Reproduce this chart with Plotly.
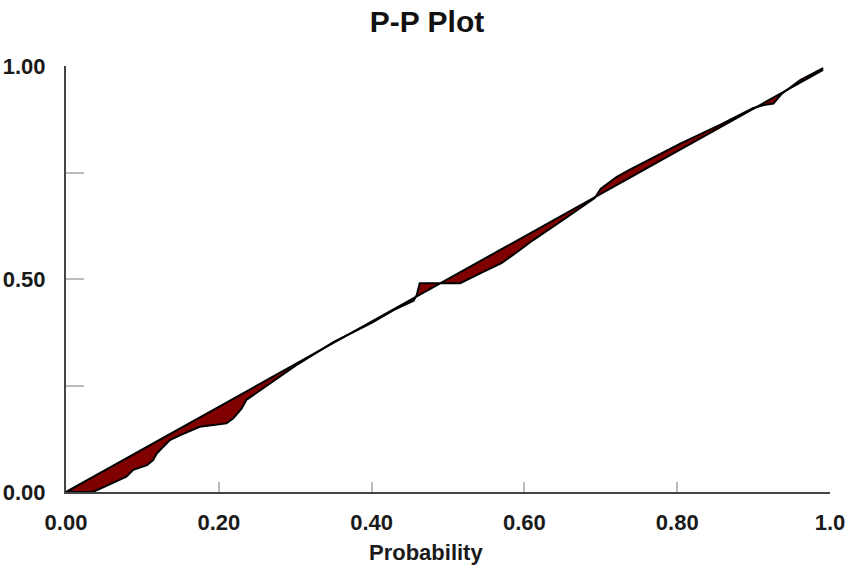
import plotly.graph_objects as go

# Theoretical probability (x) vs empirical probability (y)
theo = [0.0, 0.035, 0.045, 0.071, 0.079, 0.088, 0.106, 0.114, 0.119, 0.136, 0.149,
        0.175, 0.210, 0.219, 0.230, 0.236, 0.254, 0.276, 0.300, 0.350, 0.400, 0.430,
        0.455, 0.459, 0.463, 0.483, 0.516, 0.542, 0.570, 0.594, 0.612, 0.650, 0.692,
        0.700, 0.721, 0.738, 0.770, 0.804, 0.856, 0.899, 0.915, 0.926, 0.937, 0.961, 0.991]
emp = [0.0, 0.0, 0.008, 0.028, 0.036, 0.052, 0.063, 0.075, 0.091, 0.122, 0.133,
       0.153, 0.161, 0.173, 0.196, 0.216, 0.239, 0.266, 0.296, 0.352, 0.397, 0.428,
       0.449, 0.462, 0.490, 0.490, 0.490, 0.513, 0.537, 0.568, 0.592, 0.638, 0.690,
       0.712, 0.740, 0.757, 0.787, 0.818, 0.862, 0.901, 0.909, 0.912, 0.935, 0.967, 0.995]

ref_x = [0.0, 0.991]
ref_y = [0.0, 0.991]

x_ticks = [0.0, 0.2, 0.4, 0.6, 0.8, 1.0]
x_labels = ["0.00", "0.20", "0.40", "0.60", "0.80", "1.0"]
y_ticks = [0.0, 0.25, 0.5, 0.75, 1.0]
y_labels = ["0.00", "", "0.50", "", "1.00"]

FONT = "Liberation Sans"
W, H = 850, 565

fig = go.Figure()
fig.add_trace(go.Scatter(x=ref_x, y=ref_y, mode="lines",
                         line=dict(color="black", width=2), showlegend=False,
                         hoverinfo="skip"))
fig.add_trace(go.Scatter(x=theo, y=emp, mode="lines", fill="tonexty",
                         fillcolor="#800000", line=dict(color="black", width=2),
                         showlegend=False))

fig.update_layout(
    width=W, height=H,
    margin=dict(l=66, r=20, t=66, b=73, autoexpand=False),
    paper_bgcolor="white", plot_bgcolor="white",
    font=dict(family=FONT, color="#1a1a1a"),
    title=dict(text="<b>P-P Plot</b>", x=427 / W, xref="container", xanchor="center",
               y=1 - 21 / H, yref="container", yanchor="middle",
               font=dict(size=30, family=FONT, color="#111")),
    xaxis=dict(range=[0, 1], tickvals=x_ticks, ticktext=x_labels, automargin=False,
               ticks="inside", ticklen=10, tickcolor="#bbbbbb", tickwidth=1.5,
               showline=True, linecolor="#444444", linewidth=2,
               showgrid=False, zeroline=False, ticklabelstandoff=10,
               tickfont=dict(size=22, family=FONT, weight="bold", color="#1a1a1a")),
    yaxis=dict(range=[0, 1], tickvals=y_ticks, ticktext=y_labels, automargin=False,
               ticks="inside", ticklen=18, tickcolor="#bbbbbb", tickwidth=1.5,
               showline=True, linecolor="#444444", linewidth=2,
               showgrid=False, zeroline=False, ticklabelstandoff=14,
               tickfont=dict(size=22, family=FONT, weight="bold", color="#1a1a1a")),
    annotations=[dict(text="<b>Probability</b>", xref="paper", yref="paper",
                      x=(426 - 66) / 764, y=(492 - 552) / 426,
                      xanchor="center", yanchor="middle", showarrow=False,
                      font=dict(size=22, family=FONT, color="#1a1a1a"))],
)

fig.write_html("out.html",
               config={"displayModeBar": False},
               post_script="document.body.style.margin='0';document.body.style.overflow='hidden';")
